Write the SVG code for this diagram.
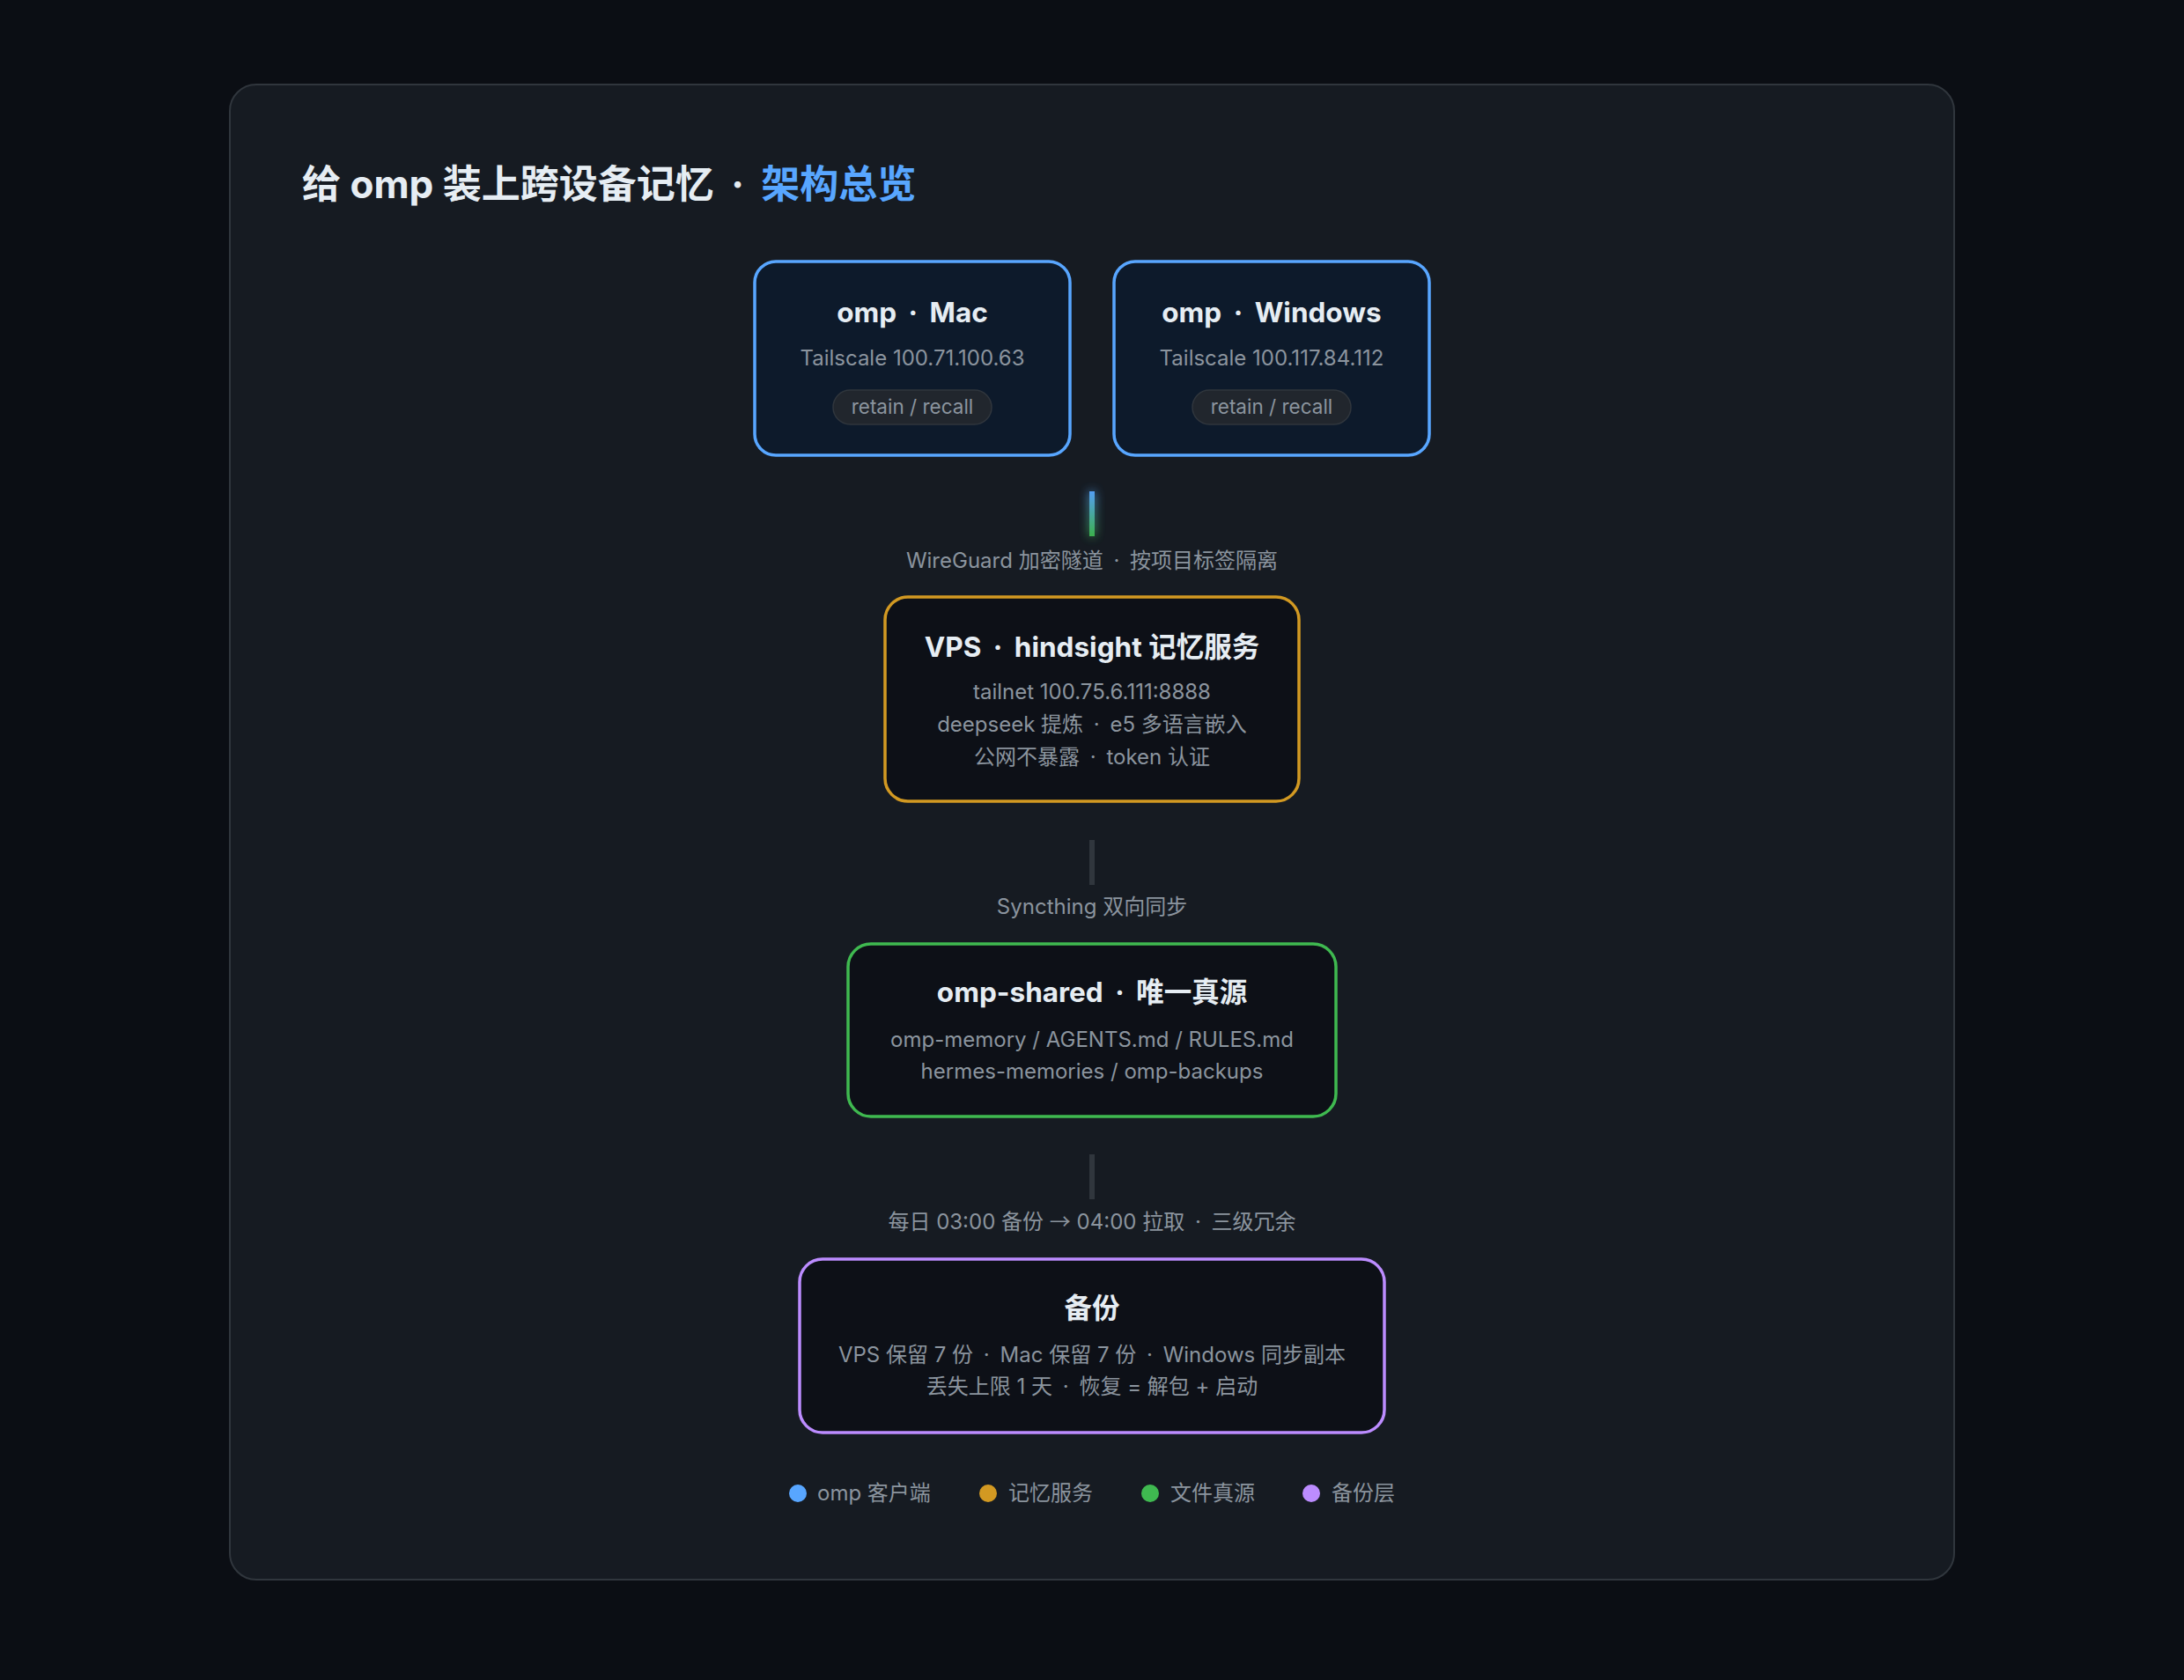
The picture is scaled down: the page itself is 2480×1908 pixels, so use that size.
<svg xmlns="http://www.w3.org/2000/svg" width="2480" height="1908" viewBox="0 0 2480 1908">
  <defs>
    <style>
      text { font-family: "Inter", "Noto Sans CJK SC", "Noto Sans", sans-serif; }
      .title { font-size: 44px; font-weight: 700; fill: #e6edf3; }
      .accent { fill: #58a6ff; }
      .ntitle { font-size: 31.5px; font-weight: 700; fill: #e6edf3; text-anchor: middle; }
      .sub { font-size: 24px; fill: #8b949e; text-anchor: middle; }
      .pilltext { font-size: 22.5px; fill: #8b949e; text-anchor: middle; }
      .pill { fill: #21262d; stroke: #30363d; stroke-width: 1.5; }
      .lbl { font-size: 24px; fill: #8b949e; text-anchor: middle; }
      .leg { font-size: 24px; fill: #8b949e; }
      .cjk { font-family: "Noto Sans CJK SC", sans-serif; }
      .client { fill: #0d1a2b; stroke: #58a6ff; stroke-width: 3.5; }
      .mem { fill: #0d1017; stroke: #d29922; stroke-width: 3.5; }
      .src { fill: #0d1017; stroke: #3fb950; stroke-width: 3.5; }
      .bak { fill: #0d1017; stroke: #bc8cff; stroke-width: 3.5; }
      .conn { fill: #30363d; }
    </style>
    <linearGradient id="wg" x1="0" y1="0" x2="0" y2="1">
      <stop offset="0" stop-color="#58a6ff"/>
      <stop offset="1" stop-color="#3fb950"/>
    </linearGradient>
    <filter id="glow" x="-300%" y="-50%" width="700%" height="200%">
      <feGaussianBlur stdDeviation="6" result="b"/>
      <feMerge><feMergeNode in="b"/><feMergeNode in="SourceGraphic"/></feMerge>
    </filter>
  </defs>

  <rect x="0" y="0" width="2480" height="1908" fill="#0b0e14"/>
  <rect id="panel" x="261" y="96" width="1958" height="1698" rx="30" fill="#161b22" stroke="#30363d" stroke-width="2"/>

  <text id="title" class="title" x="343" y="225">给 omp 装上跨设备记忆 <tspan dx="9">·</tspan><tspan dx="9"> </tspan><tspan class="accent">架构总览</tspan></text>

  <g id="connectors">
    <rect x="1237" y="558" width="6" height="51" fill="url(#wg)" filter="url(#glow)" opacity="0.95"/>
    <text class="lbl" x="1240" y="645">WireGuard 加密隧道 <tspan dx="5">·</tspan><tspan dx="5"> 按项目标签隔离</tspan></text>
    <rect class="conn" x="1237" y="954" width="6" height="51"/>
    <text class="lbl" x="1240" y="1038">Syncthing 双向同步</text>
    <rect class="conn" x="1237" y="1311" width="6" height="51"/>
    <text class="lbl" x="1240" y="1396">每日 03:00 备份 <tspan class="cjk">→</tspan> 04:00 拉取 <tspan dx="5">·</tspan><tspan dx="5"> 三级冗余</tspan></text>
  </g>

  <g id="node-mac">
    <rect class="client" x="857" y="297" width="358" height="220" rx="24"/>
    <text class="ntitle" x="1036" y="366">omp <tspan dx="6">·</tspan><tspan dx="6"> Mac</tspan></text>
    <text class="sub" x="1036" y="415">Tailscale 100.71.100.63</text>
    <rect class="pill" x="946" y="443" width="180" height="39" rx="19.5"/>
    <text class="pilltext" x="1036" y="470">retain / recall</text>
  </g>

  <g id="node-windows">
    <rect class="client" x="1265" y="297" width="358" height="220" rx="24"/>
    <text class="ntitle" x="1444" y="366">omp <tspan dx="6">·</tspan><tspan dx="6"> Windows</tspan></text>
    <text class="sub" x="1444" y="415">Tailscale 100.117.84.112</text>
    <rect class="pill" x="1354" y="443" width="180" height="39" rx="19.5"/>
    <text class="pilltext" x="1444" y="470">retain / recall</text>
  </g>

  <g id="node-vps">
    <rect class="mem" x="1005" y="678" width="470" height="232" rx="26"/>
    <text class="ntitle" x="1240" y="746">VPS <tspan dx="6">·</tspan><tspan dx="6"> hindsight 记忆服务</tspan></text>
    <text class="sub" x="1240" y="794">tailnet 100.75.6.111:8888</text>
    <text class="sub" x="1240" y="831">deepseek 提炼 <tspan dx="5">·</tspan><tspan dx="5"> e5 多语言嵌入</tspan></text>
    <text class="sub" x="1240" y="868">公网不暴露 <tspan dx="5">·</tspan><tspan dx="5"> token 认证</tspan></text>
  </g>

  <g id="node-shared">
    <rect class="src" x="963" y="1072" width="554" height="196" rx="26"/>
    <text class="ntitle" x="1240" y="1138">omp-shared <tspan dx="6">·</tspan><tspan dx="6"> 唯一真源</tspan></text>
    <text class="sub" x="1240" y="1189">omp-memory / AGENTS.md / RULES.md</text>
    <text class="sub" x="1240" y="1225">hermes-memories / omp-backups</text>
  </g>

  <g id="node-backup">
    <rect class="bak" x="908" y="1430" width="664" height="197" rx="26"/>
    <text class="ntitle" x="1240" y="1497">备份</text>
    <text class="sub" x="1240" y="1547">VPS 保留 7 份 <tspan dx="5">·</tspan><tspan dx="5"> Mac 保留 7 份 </tspan><tspan dx="5">·</tspan><tspan dx="5"> Windows 同步副本</tspan></text>
    <text class="sub" x="1240" y="1583">丢失上限 1 天 <tspan dx="5">·</tspan><tspan dx="5"> 恢复 = 解包 + 启动</tspan></text>
  </g>

  <g id="legend">
    <circle cx="906" cy="1696" r="10" fill="#58a6ff"/>
    <text class="leg" x="928" y="1704">omp 客户端</text>
    <circle cx="1122" cy="1696" r="10" fill="#d29922"/>
    <text class="leg" x="1145" y="1704">记忆服务</text>
    <circle cx="1306" cy="1696" r="10" fill="#3fb950"/>
    <text class="leg" x="1329" y="1704">文件真源</text>
    <circle cx="1489" cy="1696" r="10" fill="#bc8cff"/>
    <text class="leg" x="1512" y="1704">备份层</text>
  </g>
</svg>
